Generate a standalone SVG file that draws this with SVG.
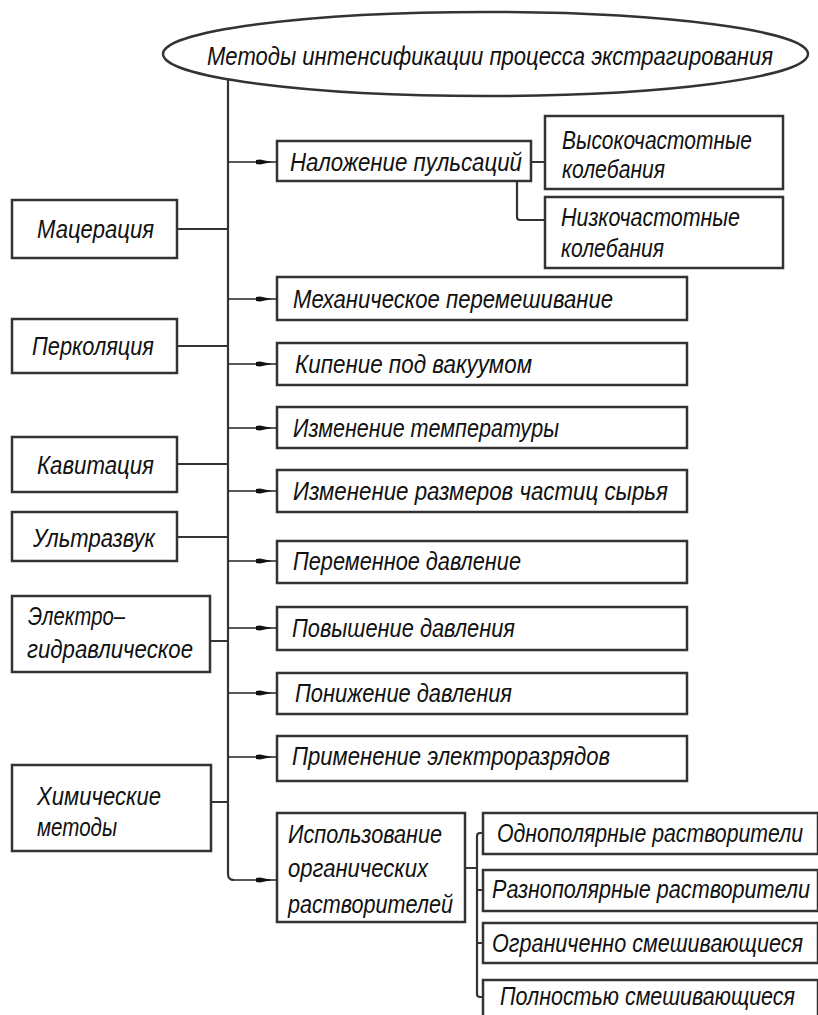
<svg xmlns="http://www.w3.org/2000/svg" width="818" height="1015" viewBox="0 0 818 1015">
<style>
.box{fill:#fff;stroke:#333;stroke-width:2.5}
.ln{fill:none;stroke:#333;stroke-width:2.2}
.ar{fill:none;stroke:#222;stroke-width:1.6}
text{font-family:"Liberation Sans",Arial,sans-serif;font-style:italic;font-size:26px;fill:#111}
</style>
<defs>
<marker id="ah" markerUnits="userSpaceOnUse" viewBox="0 0 22 6" refX="21" refY="3" markerWidth="22" markerHeight="6" orient="auto">
<path d="M0,1 L4,0.6 L16,3 L4,5.4 L0,5 Z" fill="#111"/>
</marker>
</defs>
<rect width="818" height="1015" fill="#fff"/>

<g id="connectors">
<path class="ln" d="M228,79 V874 Q228,880 234,880"/>
<path class="ln" d="M177,229 H228 M177,346 H228 M177,464 H228 M177,537 H228 M210,641 H228 M211,802 H228"/>
<line class="ar" x1="228" y1="162" x2="277" y2="162" marker-end="url(#ah)"/>
<line class="ar" x1="228" y1="299" x2="277" y2="299" marker-end="url(#ah)"/>
<line class="ar" x1="228" y1="364" x2="277" y2="364" marker-end="url(#ah)"/>
<line class="ar" x1="228" y1="428" x2="277" y2="428" marker-end="url(#ah)"/>
<line class="ar" x1="228" y1="491" x2="277" y2="491" marker-end="url(#ah)"/>
<line class="ar" x1="228" y1="561" x2="277" y2="561" marker-end="url(#ah)"/>
<line class="ar" x1="228" y1="628" x2="277" y2="628" marker-end="url(#ah)"/>
<line class="ar" x1="228" y1="693" x2="277" y2="693" marker-end="url(#ah)"/>
<line class="ar" x1="228" y1="757" x2="277" y2="757" marker-end="url(#ah)"/>
<line class="ar" x1="233" y1="880" x2="277" y2="880" marker-end="url(#ah)"/>
<path class="ln" d="M531,162 H545 M517,181 V217 Q517,220 520,220 H545"/>
<path class="ln" d="M465,868 H477 M483,833 H480 Q477,833 477,836 V994 Q477,997 480,997 H483 M477,890 H483 M477,943 H483"/>
</g>

<g id="n-title">
<ellipse class="box" cx="485.5" cy="54" rx="322.5" ry="42"/>
<text x="207" y="65" textLength="566" lengthAdjust="spacingAndGlyphs">Методы интенсификации процесса экстрагирования</text>
</g>

<g id="n-maceration"><rect class="box" x="12" y="200" width="165" height="58"/><text x="37" y="238" textLength="117" lengthAdjust="spacingAndGlyphs">Мацерация</text></g>
<g id="n-percolation"><rect class="box" x="12" y="319" width="165" height="54"/><text x="32" y="355" textLength="122" lengthAdjust="spacingAndGlyphs">Перколяция</text></g>
<g id="n-cavitation"><rect class="box" x="12" y="437" width="165" height="55"/><text x="37" y="474" textLength="117" lengthAdjust="spacingAndGlyphs">Кавитация</text></g>
<g id="n-ultrasound"><rect class="box" x="12" y="512" width="165" height="49"/><text x="33" y="547" textLength="122" lengthAdjust="spacingAndGlyphs">Ультразвук</text></g>
<g id="n-electrohydraulic"><rect class="box" x="12" y="596" width="198" height="76"/><text x="28" y="625" textLength="97" lengthAdjust="spacingAndGlyphs">Электро–</text><text x="27" y="658" textLength="166" lengthAdjust="spacingAndGlyphs">гидравлическое</text></g>
<g id="n-chemical"><rect class="box" x="12" y="765" width="199" height="86"/><text x="37" y="805" textLength="124" lengthAdjust="spacingAndGlyphs">Химические</text><text x="37" y="836" textLength="80" lengthAdjust="spacingAndGlyphs">методы</text></g>

<g id="n-pulsation"><rect class="box" x="277" y="141" width="254" height="40"/><text x="290" y="171" textLength="232" lengthAdjust="spacingAndGlyphs">Наложение пульсаций</text></g>
<g id="n-highfreq"><rect class="box" x="545" y="116" width="238" height="73"/><text x="562" y="149" textLength="190" lengthAdjust="spacingAndGlyphs">Высокочастотные</text><text x="562" y="178" textLength="103" lengthAdjust="spacingAndGlyphs">колебания</text></g>
<g id="n-lowfreq"><rect class="box" x="545" y="197" width="238" height="71"/><text x="561" y="226" textLength="179" lengthAdjust="spacingAndGlyphs">Низкочастотные</text><text x="561" y="257" textLength="103" lengthAdjust="spacingAndGlyphs">колебания</text></g>
<g id="n-mixing"><rect class="box" x="277" y="277" width="410" height="43"/><text x="293" y="308" textLength="320" lengthAdjust="spacingAndGlyphs">Механическое перемешивание</text></g>
<g id="n-vacuum"><rect class="box" x="277" y="343" width="410" height="42"/><text x="295" y="373" textLength="237" lengthAdjust="spacingAndGlyphs">Кипение под вакуумом</text></g>
<g id="n-temperature"><rect class="box" x="277" y="407" width="410" height="41"/><text x="293" y="437" textLength="266" lengthAdjust="spacingAndGlyphs">Изменение температуры</text></g>
<g id="n-particles"><rect class="box" x="277" y="470" width="410" height="42"/><text x="293" y="500" textLength="375" lengthAdjust="spacingAndGlyphs">Изменение размеров частиц сырья</text></g>
<g id="n-varpressure"><rect class="box" x="277" y="541" width="410" height="42"/><text x="293" y="570" textLength="228" lengthAdjust="spacingAndGlyphs">Переменное давление</text></g>
<g id="n-highpressure"><rect class="box" x="277" y="607" width="410" height="43"/><text x="292" y="637" textLength="223" lengthAdjust="spacingAndGlyphs">Повышение давления</text></g>
<g id="n-lowpressure"><rect class="box" x="277" y="673" width="410" height="41"/><text x="295" y="702" textLength="217" lengthAdjust="spacingAndGlyphs">Понижение давления</text></g>
<g id="n-discharge"><rect class="box" x="277" y="736" width="410" height="45"/><text x="292" y="765" textLength="318" lengthAdjust="spacingAndGlyphs">Применение электроразрядов</text></g>
<g id="n-solvents"><rect class="box" x="277" y="813" width="188" height="109"/><text x="288" y="843" textLength="154" lengthAdjust="spacingAndGlyphs">Использование</text><text x="288" y="877" textLength="140" lengthAdjust="spacingAndGlyphs">органических</text><text x="288" y="913" textLength="165" lengthAdjust="spacingAndGlyphs">растворителей</text></g>

<g id="n-unipolar"><rect class="box" x="483" y="813" width="335" height="41"/><text x="497" y="842" textLength="306" lengthAdjust="spacingAndGlyphs">Однополярные растворители</text></g>
<g id="n-multipolar"><rect class="box" x="483" y="870" width="335" height="41"/><text x="492" y="898" textLength="318" lengthAdjust="spacingAndGlyphs">Разнополярные растворители</text></g>
<g id="n-limited"><rect class="box" x="483" y="923" width="335" height="40"/><text x="492" y="952" textLength="311" lengthAdjust="spacingAndGlyphs">Ограниченно смешивающиеся</text></g>
<g id="n-full"><rect class="box" x="483" y="980" width="335" height="42"/><text x="500" y="1005" textLength="295" lengthAdjust="spacingAndGlyphs">Полностью смешивающиеся</text></g>
</svg>
